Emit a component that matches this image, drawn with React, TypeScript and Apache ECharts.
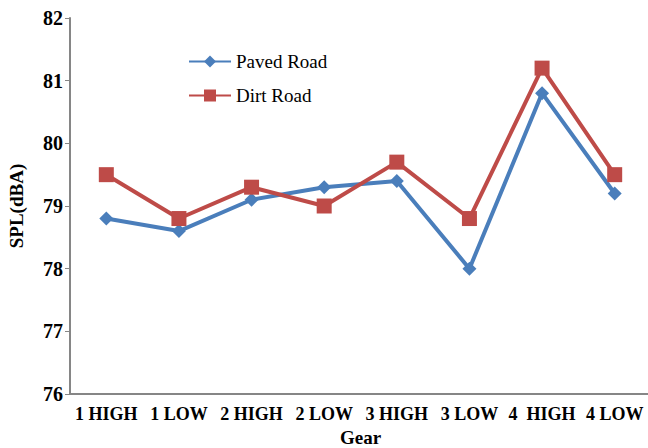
import React, { useEffect, useRef } from "react";
import * as echarts from "echarts";

const categories = ["1 HIGH", "1 LOW", "2 HIGH", "2 LOW", "3 HIGH", "3 LOW", "4  HIGH", "4 LOW"];
const pavedRoad = [78.8, 78.6, 79.1, 79.3, 79.4, 78.0, 80.8, 79.2];
const dirtRoad = [79.5, 78.8, 79.3, 79.0, 79.7, 78.8, 81.2, 79.5];

const FONT = "Liberation Serif";

export default function App() {
  const ref = useRef<HTMLDivElement>(null);
  useEffect(() => {
    if (!ref.current) return;
    const chart = echarts.init(ref.current, undefined, { renderer: "svg" });
    chart.setOption({
      animation: false,
      backgroundColor: "#ffffff",
      textStyle: { fontFamily: FONT },
      grid: { left: 70, right: -3, top: 18, bottom: 54, outerBoundsMode: "none", containLabel: false },
      legend: {
        orient: "vertical",
        left: 183,
        top: 47,
        itemWidth: 42,
        itemHeight: 15,
        itemGap: 15,
        textStyle: { fontFamily: FONT, fontSize: 19, color: "#000" },
        data: ["Paved Road", "Dirt Road"],
      },
      xAxis: {
        type: "category",
        data: categories,
        name: "Gear",
        nameLocation: "middle",
        nameGap: 34,
        nameTextStyle: { fontFamily: FONT, fontSize: 19, fontWeight: "bold", color: "#000" },
        axisLine: { lineStyle: { color: "#868686", width: 2 } },
        axisTick: { show: false },
        axisLabel: {
          fontFamily: FONT,
          fontSize: 18,
          fontWeight: "bold",
          color: "#000",
          margin: 11,
          interval: 0,
        },
        splitLine: { show: false },
      },
      yAxis: {
        type: "value",
        min: 76,
        max: 82,
        interval: 1,
        name: "SPL(dBA)",
        nameLocation: "middle",
        nameGap: 44,
        nameTextStyle: { fontFamily: FONT, fontSize: 19, fontWeight: "bold", color: "#000" },
        axisLine: { show: true, lineStyle: { color: "#868686", width: 2 } },
        axisTick: { show: true, length: 5, lineStyle: { color: "#868686", width: 1 } },
        axisLabel: {
          fontFamily: FONT,
          fontSize: 20,
          fontWeight: "bold",
          color: "#000",
          margin: 7,
        },
        splitLine: { show: false },
      },
      series: [
        {
          name: "Paved Road",
          type: "line",
          data: pavedRoad,
          symbol: "diamond",
          symbolSize: 14,
          color: "#4A7EBB",
          lineStyle: { width: 4, color: "#4A7EBB" },
          itemStyle: { color: "#4A7EBB" },
        },
        {
          name: "Dirt Road",
          type: "line",
          data: dirtRoad,
          symbol: "rect",
          symbolSize: 15,
          color: "#BE4B48",
          lineStyle: { width: 4, color: "#BE4B48" },
          itemStyle: { color: "#BE4B48" },
        },
      ],
    });
    return () => chart.dispose();
  }, []);
  return <div ref={ref} style={{ width: 648, height: 448, position: "absolute", left: 0, top: 0 }} />;
}
